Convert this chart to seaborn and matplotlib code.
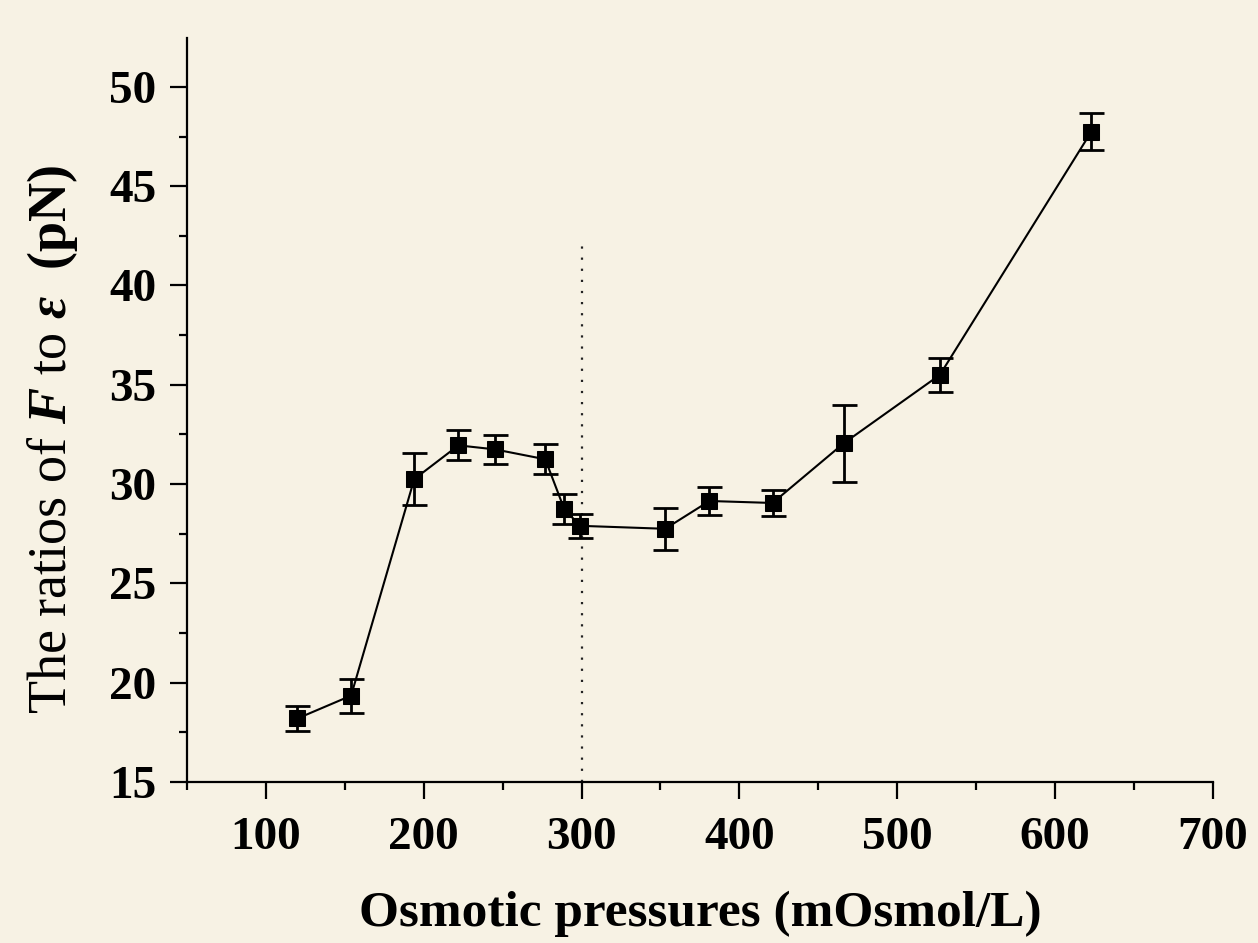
import matplotlib
matplotlib.use('Agg')
import matplotlib.pyplot as plt
import seaborn as sns
import pandas as pd
from matplotlib.ticker import MultipleLocator

# data
osmotic = [120, 154, 194, 222, 245, 277, 289, 299, 353, 381, 421, 466, 527, 623]
ratio = [18.2, 19.35, 30.25, 31.95, 31.75, 31.25, 28.75, 27.9, 27.75, 29.15, 29.05, 32.05, 35.5, 47.75]
ratio_err = [0.65, 0.85, 1.3, 0.75, 0.72, 0.75, 0.75, 0.6, 1.05, 0.72, 0.65, 1.95, 0.85, 0.93]

# dotted reference line (isotonic ~300 mOsmol/L)
ref_x = 300
ref_top = 42.3

df = pd.DataFrame({'osm': osmotic, 'ratio': ratio, 'err': ratio_err})

sns.set_style("ticks")
plt.rcParams['font.family'] = ['Liberation Serif', 'DejaVu Serif']
plt.rcParams['mathtext.fontset'] = 'custom'
plt.rcParams['mathtext.rm'] = 'Liberation Serif'
plt.rcParams['mathtext.it'] = 'Liberation Serif:italic:bold'
plt.rcParams['mathtext.bf'] = 'Liberation Serif:bold'
for key in ['text.color', 'axes.labelcolor', 'xtick.color', 'ytick.color', 'axes.edgecolor']:
    plt.rcParams[key] = 'black'

bg = '#f7f2e4'
fig = plt.figure(figsize=(12.58, 9.43), dpi=100, facecolor=bg)
ax = fig.add_axes([0.1486, 0.1707, 0.8156, 0.789])
ax.set_facecolor(bg)

ax.vlines(ref_x, 15, ref_top, colors='#222222', linestyles=(0, (1, 4)), linewidth=1.6, zorder=1)

sns.lineplot(data=df, x='osm', y='ratio', ax=ax, color='black', linewidth=1.5,
             marker='s', markersize=12, markeredgecolor='black', markerfacecolor='black',
             zorder=3)
ax.errorbar(df['osm'], df['ratio'], yerr=df['err'], fmt='none', ecolor='black',
            elinewidth=2.0, capsize=9, capthick=2.0, zorder=2)

ax.set_xlim(50, 700)
ax.set_ylim(15, 52.46)
ax.xaxis.set_minor_locator(MultipleLocator(50))
ax.yaxis.set_minor_locator(MultipleLocator(2.5))
ax.set_xticks(range(100, 701, 100))
ax.set_yticks(range(15, 51, 5))

sns.despine(ax=ax)
for side in ['left', 'bottom']:
    ax.spines[side].set_linewidth(1.6)

ax.tick_params(which='major', direction='out', length=12, width=1.6, pad=10,
               labelsize=34)
ax.tick_params(which='minor', direction='out', length=6, width=1.6)
for lab in ax.get_xticklabels() + ax.get_yticklabels():
    lab.set_fontweight('bold')
ax.tick_params(axis='x', pad=13)

ax.set_xlabel('Osmotic pressures (mOsmol/L)', fontsize=37, fontweight='bold')
ax.xaxis.set_label_coords(0.5, -0.146)
ax.set_ylabel(r'The ratios of $F$ to $\varepsilon$  $\mathbf{(pN)}$', fontsize=39)
ax.yaxis.set_label_coords(-0.104, 0.461)

fig.savefig('out.png', dpi=100, facecolor=bg)
